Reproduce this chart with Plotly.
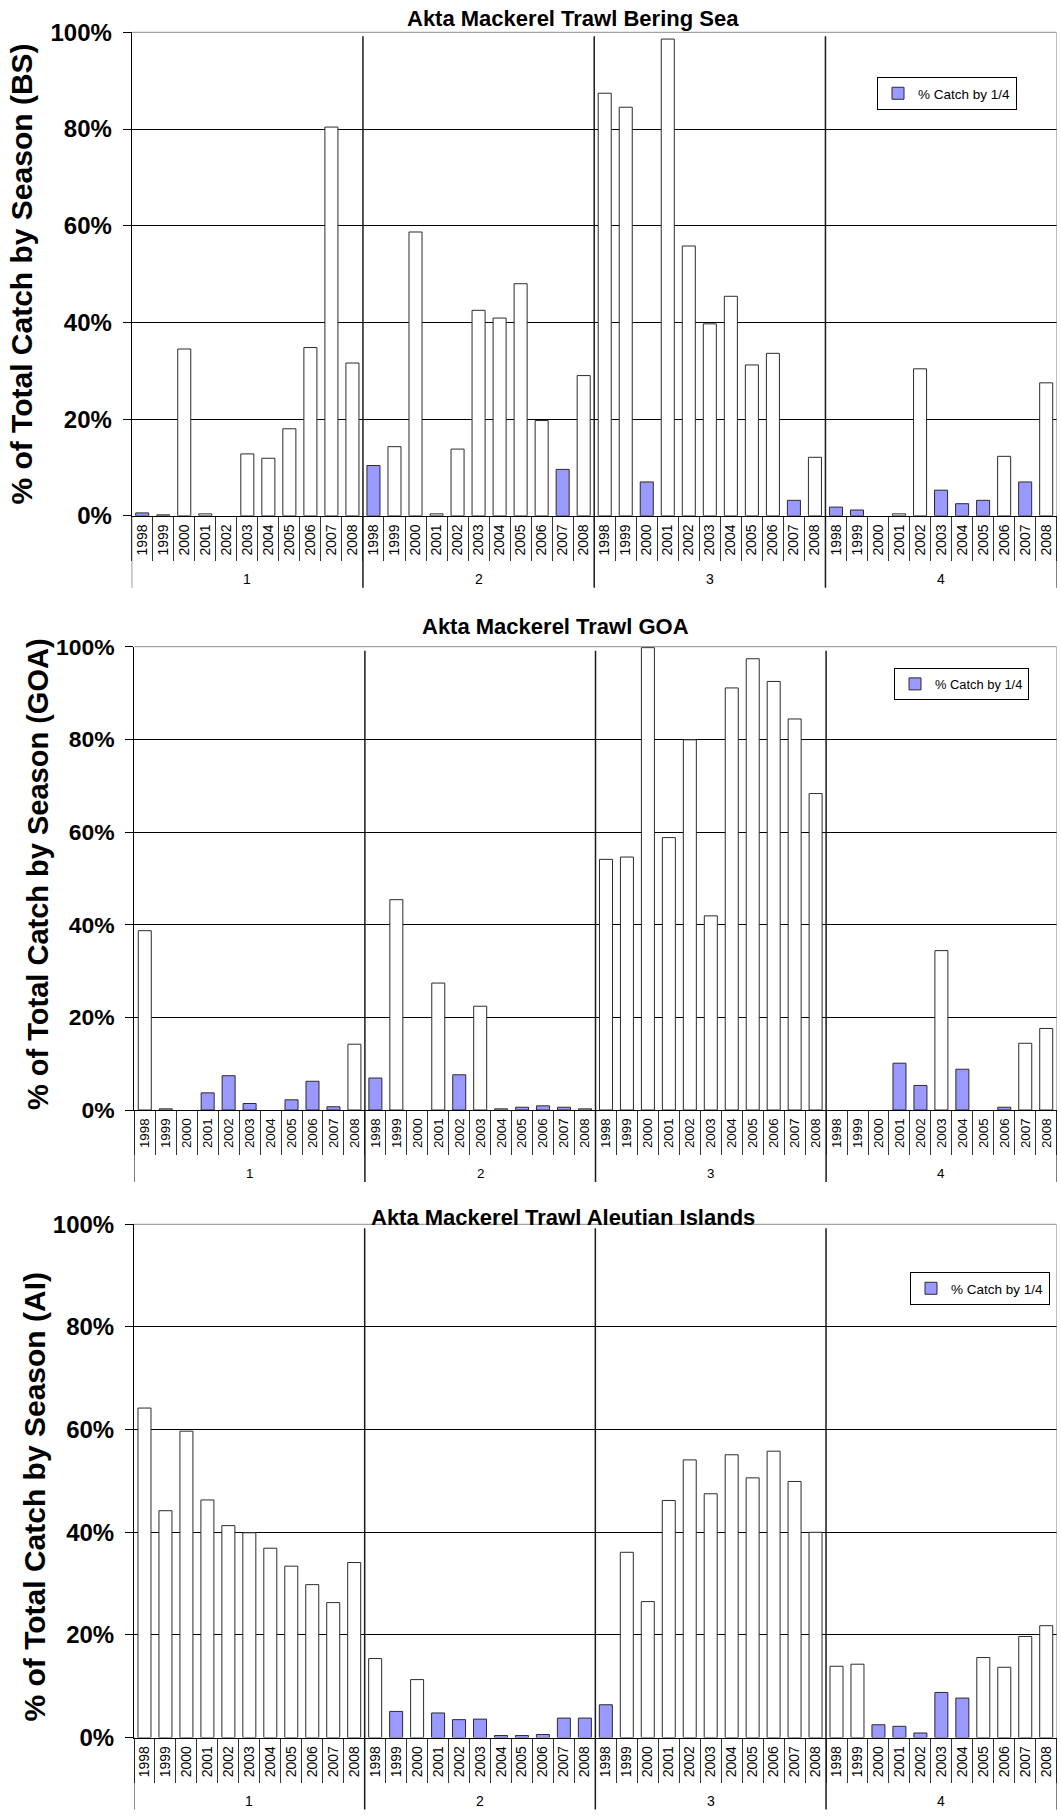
import plotly.graph_objects as go

# seasons (outer category) and years (inner category)
seasons = ["1", "2", "3", "4"]
years = ["1998", "1999", "2000", "2001", "2002", "2003",
         "2004", "2005", "2006", "2007", "2008"]
pct_ticks = [0, 20, 40, 60, 80, 100]
pct_labels = ["0%", "20%", "40%", "60%", "80%", "100%"]

# % of total catch by season; white bars and "% Catch by 1/4" (blue) bars
bs_catch = [None, 0.2, 34.5, 0.4, None, 12.8, 11.9, 18.0, 34.8, 80.4, 31.6,
            None, 14.3, 58.7, 0.4, 13.8, 42.5, 40.9, 48.0, 19.7, None, 29.0,
            87.4, 84.5, None, 98.6, 55.8, 39.7, 45.4, 31.2, 33.6, None, 12.1,
            None, None, None, 0.4, 30.4, None, None, None, 12.3, None, 27.5]
bs_catch_q = [0.6, None, None, None, None, None, None, None, None, None, None,
              10.4, None, None, None, None, None, None, None, None, 9.6, None,
              None, None, 7.0, None, None, None, None, None, None, 3.2, None,
              1.8, 1.2, None, None, None, 5.3, 2.5, 3.2, None, 7.0, None]

goa_catch = [38.7, 0.25, None, None, None, None, None, None, None, None, 14.2,
             None, 45.4, None, 27.4, None, 22.4, 0.25, None, None, None, 0.25,
             54.1, 54.6, 99.8, 58.8, 79.9, 41.9, 91.1, 97.4, 92.5, 84.4, 68.3,
             None, None, None, None, None, 34.4, None, None, None, 14.4, 17.6]
goa_catch_q = [None, None, None, 3.7, 7.4, 1.4, None, 2.2, 6.2, 0.7, None,
               6.9, None, None, None, 7.6, None, None, 0.6, 0.9, 0.6, None,
               None, None, None, None, None, None, None, None, None, None, None,
               None, None, None, 10.1, 5.3, None, 8.8, None, 0.6, None, None]

ai_catch = [64.2, 44.2, 59.7, 46.3, 41.3, 39.9, 36.9, 33.4, 29.8, 26.3, 34.1,
            15.4, None, 11.3, None, None, None, None, None, None, None, None,
            None, 36.1, 26.5, 46.2, 54.1, 47.5, 55.1, 50.6, 55.8, 49.9, 40.0,
            13.9, 14.3, None, None, None, None, None, 15.6, 13.7, 19.7, 21.8]
ai_catch_q = [None, None, None, None, None, None, None, None, None, None, None,
              None, 5.1, None, 4.8, 3.5, 3.6, 0.4, 0.4, 0.6, 3.8, 3.8,
              6.4, None, None, None, None, None, None, None, None, None, None,
              None, None, 2.5, 2.2, 0.9, 8.8, 7.7, None, None, None, None]

titles = ["Akta Mackerel Trawl Bering Sea", "Akta Mackerel Trawl GOA",
          "Akta Mackerel Trawl Aleutian Islands"]
ytitles = ["% of Total Catch by Season (BS)", "% of Total Catch by Season (GOA)",
           "% of Total Catch by Season (AI)"]
legend_label = "% Catch by 1/4"

W, H = 1061, 1817
FONT = "Liberation Sans, Arial, sans-serif"
BLUE = "#9999ff"
EDGE = "#2b2b2b"

cats = [s + "-" + y for s in seasons for y in years]
ticktext = [y for s in seasons for y in years]

# pixel layout of each panel
panels = [
    dict(left=131.7, right=1056.7, top=32.3, bottom=515.8, tx=405, ty=18.5,
         yx=22, yy=274.6, ytf=30, lx=877, ly=77, fs=1.0),
    dict(left=134.3, right=1056.7, top=646.7, bottom=1110, tx=420, ty=626,
         yx=37.5, yy=874.5, ytf=29, lx=894, ly=668, fs=0.955),
    dict(left=134.0, right=1056.7, top=1224.3, bottom=1737.6, tx=369, ty=1217.5,
         yx=33.5, yy=1497, ytf=30, lx=910, ly=1272, fs=1.0),
]
series = [(bs_catch, bs_catch_q), (goa_catch, goa_catch_q), (ai_catch, ai_catch_q)]

fig = go.Figure()
annotations = []
shapes = []


def py(v):
    return 1 - v / H


for i, (p, (white, blue)) in enumerate(zip(panels, series)):
    n = "" if i == 0 else str(i + 1)
    xa, ya = "x" + n, "y" + n
    lg = "legend" + n
    fs = p["fs"]
    ph = p["bottom"] - p["top"]

    fig.add_trace(go.Bar(x=cats, y=white, xaxis=xa, yaxis=ya, showlegend=False,
                         marker=dict(color="white", line=dict(color=EDGE, width=1))))
    fig.add_trace(go.Bar(x=cats, y=blue, xaxis=xa, yaxis=ya, name=legend_label,
                         legend=lg,
                         marker=dict(color=BLUE, line=dict(color=EDGE, width=1))))

    fig.update_layout({
        "xaxis" + n: dict(
            domain=[p["left"] / W, p["right"] / W], anchor=ya,
            type="category", categoryorder="array", categoryarray=cats,
            tickmode="array", tickvals=cats, ticktext=ticktext,
            tickangle=-90, ticks="outside", tickson="boundaries", ticklen=44,
            tickcolor="#333333", ticklabelstandoff=2,
            tickfont=dict(family=FONT, size=14 * fs, color="black"),
            showline=True, linecolor="black", linewidth=1,
            showgrid=False, range=[-0.5, len(cats) - 0.5], fixedrange=True),
        "yaxis" + n: dict(
            domain=[py(p["bottom"]), py(p["top"])], anchor=xa,
            range=[0, 100], tickmode="array", tickvals=pct_ticks,
            ticktext=pct_labels,
            ticks="outside", ticklen=8, tickcolor="black", ticklabelstandoff=6,
            tickfont=dict(family=FONT, size=24 * fs, color="black", weight="bold"),
            showline=True, linecolor="black", linewidth=1,
            showgrid=True, gridcolor="black", gridwidth=1, zeroline=False,
            fixedrange=True),
        lg: dict(x=p["lx"] / W, y=py(p["ly"]), xanchor="left", yanchor="top",
                 bgcolor="white", bordercolor="black", borderwidth=1,
                 font=dict(family=FONT, size=13.5 * fs, color="black"),
                 itemwidth=30, tracegroupgap=0),
    })

    # plot-area border (top and right) in grey
    shapes.append(dict(type="line", xref=xa, yref=ya + " domain", x0=-0.5,
                       x1=len(cats) - 0.5, y0=1, y1=1,
                       line=dict(color="#8c8c8c", width=1)))
    shapes.append(dict(type="line", xref=xa, yref=ya + " domain",
                       x0=len(cats) - 0.5, x1=len(cats) - 0.5, y0=0, y1=1,
                       line=dict(color="#8c8c8c", width=1)))
    # season dividers through plot and label area
    below = -72 / ph
    for k in range(1, len(seasons)):
        xv = k * len(years) - 0.5
        shapes.append(dict(type="line", xref=xa, yref=ya + " domain",
                           x0=xv, x1=xv, y0=below, y1=1 - 4 / ph,
                           line=dict(color="#1a1a1a", width=1.5)))
    for xv in (-0.5, len(cats) - 0.5):
        shapes.append(dict(type="line", xref=xa, yref=ya + " domain",
                           x0=xv, x1=xv, y0=below, y1=0,
                           line=dict(color="#1a1a1a", width=1)))

    # season labels
    for k, s in enumerate(seasons):
        annotations.append(dict(x=cats[k * len(years) + len(years) // 2], xref=xa,
                                y=py(p["bottom"]), yref="paper", yshift=-63,
                                text=s, showarrow=False, yanchor="middle",
                                font=dict(family=FONT, size=14 * fs, color="black")))
    # chart title
    annotations.append(dict(x=p["tx"] / W, y=py(p["ty"]), xref="paper", yref="paper",
                            text=titles[i], showarrow=False, xanchor="left",
                            yanchor="middle",
                            font=dict(family=FONT, size=22, color="black",
                                      weight="bold")))
    # y-axis title
    annotations.append(dict(x=p["yx"] / W, y=py(p["yy"]), xref="paper", yref="paper",
                            text=ytitles[i], showarrow=False, textangle=-90,
                            xanchor="center", yanchor="middle",
                            font=dict(family=FONT, size=p["ytf"], color="black",
                                      weight="bold")))

fig.update_layout(
    width=W, height=H,
    margin=dict(l=0, r=0, t=0, b=0, autoexpand=False),
    paper_bgcolor="white", plot_bgcolor="white",
    barmode="overlay", bargap=0.38,
    annotations=annotations, shapes=shapes,
    font=dict(family=FONT, color="black"),
)

# drop the page's default body margin so the figure sits at the window origin
fig.write_html("out.html", config={"displayModeBar": False},
               post_script="document.body.style.margin='0px';")
